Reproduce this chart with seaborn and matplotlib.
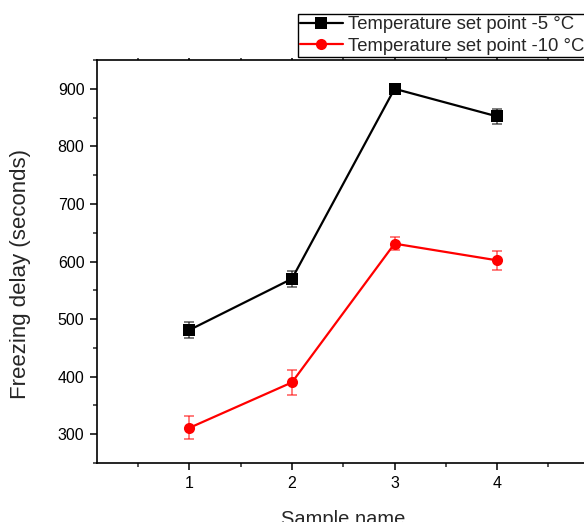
import numpy as np
import pandas as pd
import matplotlib
matplotlib.use("Agg")
import matplotlib.pyplot as plt
import seaborn as sns
from matplotlib.ticker import MultipleLocator

# Data
samples = [1, 2, 3, 4]
delay_m5 = [481, 570, 900, 852]
err_m5 = [14, 14, 9, 13]
delay_m10 = [311, 390, 631, 602]
err_m10 = [20, 22, 11, 16]
series_names = ["Temperature set point -5 \u00b0C", "Temperature set point -10 \u00b0C"]

df = pd.DataFrame({
    "Sample": samples * 2,
    "Delay": delay_m5 + delay_m10,
    "Err": err_m5 + err_m10,
    "Series": [series_names[0]] * 4 + [series_names[1]] * 4,
})

sns.set_style("ticks")
plt.rcParams["font.family"] = ["Liberation Sans", "DejaVu Sans"]

fig = plt.figure(figsize=(5.84, 5.22), dpi=100)
ax = fig.add_axes([97 / 584, 59 / 522, 492.5 / 584, 403 / 522])

colors = {series_names[0]: "black", series_names[1]: "red"}
markers = {series_names[0]: "s", series_names[1]: "o"}

for name in series_names:
    sub = df[df["Series"] == name]
    ax.errorbar(sub["Sample"], sub["Delay"], yerr=sub["Err"], fmt="none",
                ecolor=colors[name], alpha=0.6, elinewidth=1.2, capsize=3.5,
                capthick=1.2, zorder=2)
    sns.lineplot(data=sub, x="Sample", y="Delay", color=colors[name],
                 marker=markers[name], markersize=8, markeredgewidth=0,
                 linewidth=1.6, label=name, ax=ax, zorder=3)

ax.set_xlim(0.1, 4.9)
ax.set_ylim(250, 950)
ax.xaxis.set_major_locator(MultipleLocator(1))
ax.xaxis.set_minor_locator(MultipleLocator(0.5))
ax.yaxis.set_major_locator(MultipleLocator(100))
ax.yaxis.set_minor_locator(MultipleLocator(50))

for s in ax.spines.values():
    s.set_linewidth(1.2)
    s.set_color("black")
ax.tick_params(axis="both", which="major", direction="out", length=5, width=1.1,
               labelsize=11.5, colors="black", pad=4)
ax.tick_params(axis="both", which="minor", direction="out", length=3, width=1.1)
# tiny ticks on the top spine
ax.tick_params(axis="x", which="both", top=True, labeltop=False)
for t in ax.xaxis.get_major_ticks() + ax.xaxis.get_minor_ticks():
    t.tick2line.set_markersize(1.5)

ax.set_xlabel("Sample name", fontsize=14.5, labelpad=14)
ax.set_ylabel("Freezing delay (seconds)", fontsize=16)
ax.yaxis.set_label_coords(-0.135, 0.47)

leg = ax.legend(loc="upper left", bbox_to_anchor=(298 / 584, 508 / 522),
                bbox_transform=fig.transFigure, fontsize=13.3, frameon=True,
                fancybox=False, handlelength=2.3, handletextpad=0.3,
                borderpad=0.12, labelspacing=0.25, borderaxespad=0)
leg.get_frame().set_edgecolor("black")
leg.get_frame().set_linewidth(1.0)
leg.get_frame().set_alpha(1)

fig.savefig("out.png", dpi=100)
